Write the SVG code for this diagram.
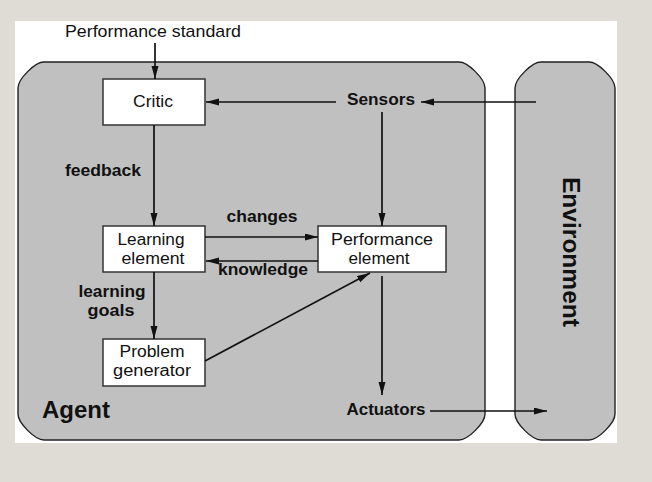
<svg xmlns="http://www.w3.org/2000/svg" width="652" height="482" viewBox="0 0 652 482">
<defs>
<marker id="ah" markerUnits="userSpaceOnUse" markerWidth="14" markerHeight="8" refX="13" refY="3.5" orient="auto">
<path d="M0,0 L13,3.5 L0,7 z" fill="#111"/>
</marker>
<style>
.bg{fill:#dfdcd6}
.panel{fill:#ffffff}
.region{fill:#c0c0c0;stroke:#222;stroke-width:1.4}
.box{fill:#ffffff;stroke:#333;stroke-width:1.5}
.t{font-family:"Liberation Sans",Arial,sans-serif;font-size:17px;fill:#111;text-anchor:middle}
.t2{font-family:"Liberation Sans",Arial,sans-serif;font-size:16px;fill:#111;text-anchor:middle}
.b{font-family:"Liberation Sans",Arial,sans-serif;font-size:17px;font-weight:bold;fill:#111;text-anchor:middle}
.c{fill:none;stroke:#111;stroke-width:1.7;marker-end:url(#ah)}
</style>
</defs>
<rect class="bg" x="0" y="0" width="652" height="482"/>
<rect class="panel" x="15" y="21" width="602" height="422"/>

<g id="agent">
<path class="region" d="M44,62 H459 C468,62 485,79 485,88 V414 C485,423 468,440 459,440 H44 C35,440 18,423 18,414 V88 C18,79 35,62 44,62 Z"/>
<text x="76" y="418" font-family="Liberation Sans,Arial,sans-serif" font-size="23" font-weight="bold" fill="#111" text-anchor="middle" textLength="68" lengthAdjust="spacingAndGlyphs">Agent</text>
</g>

<g id="environment">
<path class="region" d="M541,62 H589 C598,62 615,79 615,88 V414 C615,423 598,440 589,440 H541 C532,440 515,423 515,414 V88 C515,79 532,62 541,62 Z"/>
<text transform="translate(563,252) rotate(90)" font-family="Liberation Sans,Arial,sans-serif" font-size="24" font-weight="bold" fill="#111" text-anchor="middle" textLength="150" lengthAdjust="spacingAndGlyphs">Environment</text>
</g>

<g id="performance-standard">
<text class="t" x="153" y="37" font-size="16" textLength="176" lengthAdjust="spacingAndGlyphs">Performance standard</text>
</g>

<g id="critic">
<rect class="box" x="103" y="79" width="102" height="46"/>
<text class="t" x="153" y="107" textLength="40" lengthAdjust="spacingAndGlyphs">Critic</text>
</g>

<g id="sensors">
<text class="b" x="381" y="105" textLength="68" lengthAdjust="spacingAndGlyphs">Sensors</text>
</g>

<g id="learning-element">
<rect class="box" x="103" y="226" width="102" height="46"/>
<text class="t2" x="151" y="245" textLength="67" lengthAdjust="spacingAndGlyphs">Learning</text>
<text class="t2" x="153" y="264" textLength="63" lengthAdjust="spacingAndGlyphs">element</text>
</g>

<g id="performance-element">
<rect class="box" x="318" y="226" width="128" height="46"/>
<text class="t2" x="382" y="245" textLength="102" lengthAdjust="spacingAndGlyphs">Performance</text>
<text class="t2" x="379" y="264" textLength="61" lengthAdjust="spacingAndGlyphs">element</text>
</g>

<g id="problem-generator">
<rect class="box" x="103" y="339" width="102" height="47"/>
<text class="t2" x="152" y="357" textLength="65" lengthAdjust="spacingAndGlyphs">Problem</text>
<text class="t2" x="152" y="376" textLength="78" lengthAdjust="spacingAndGlyphs">generator</text>
</g>

<g id="actuators">
<text class="b" x="386" y="415" textLength="79" lengthAdjust="spacingAndGlyphs">Actuators</text>
</g>

<g id="connectors">
<path class="c" d="M155,43 L155,79"/>
<path class="c" d="M336,102 L206,102"/>
<path class="c" d="M536,102 L421,102"/>
<path class="c" d="M382,112 L382,226"/>
<path class="c" d="M154,125 L154,226"/>
<path class="c" d="M205,237 L318,237"/>
<path class="c" d="M318,261 L206,261"/>
<path class="c" d="M154,272 L154,339"/>
<path class="c" d="M205,361 L370,273"/>
<path class="c" d="M382,276 L382,395"/>
<path class="c" d="M430,411 L547,411"/>
<text class="b" x="103" y="176" textLength="76" lengthAdjust="spacingAndGlyphs">feedback</text>
<text class="b" x="262" y="222" textLength="71" lengthAdjust="spacingAndGlyphs">changes</text>
<text class="b" x="263" y="275" textLength="90" lengthAdjust="spacingAndGlyphs">knowledge</text>
<text class="b" x="112" y="297" textLength="67" lengthAdjust="spacingAndGlyphs">learning</text>
<text class="b" x="111" y="316" textLength="47" lengthAdjust="spacingAndGlyphs">goals</text>
</g>
</svg>
